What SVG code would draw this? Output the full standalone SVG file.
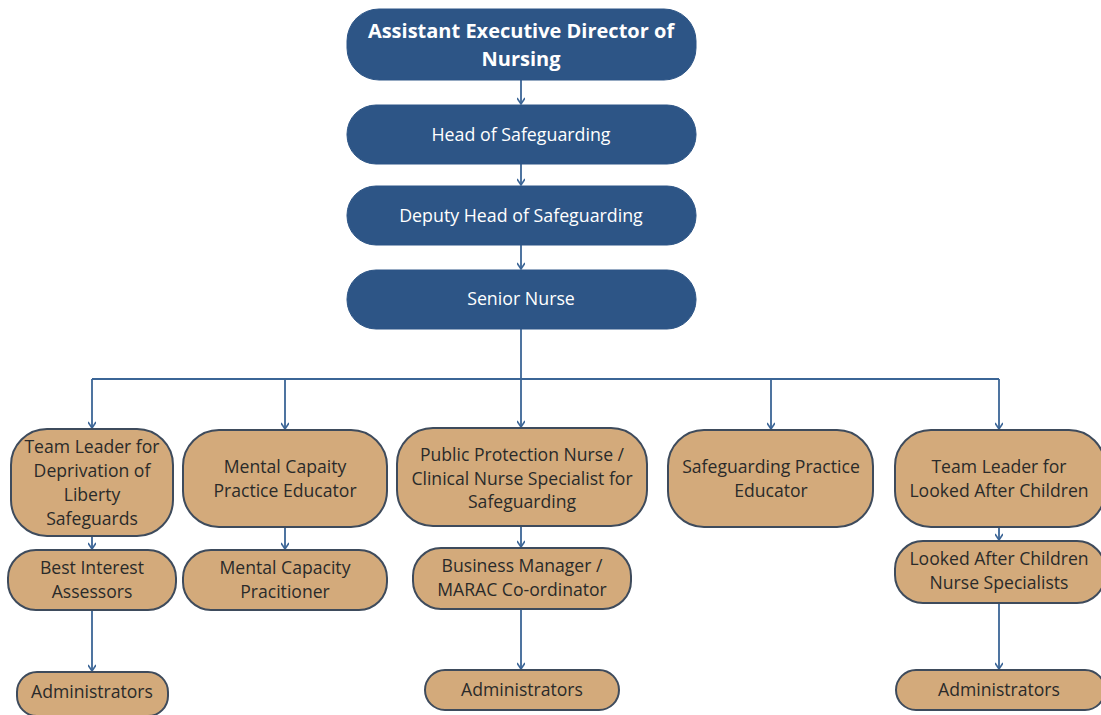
<svg xmlns="http://www.w3.org/2000/svg" width="1101" height="715" viewBox="0 0 1101 715">
<defs>
<marker id="ah" markerWidth="8" markerHeight="8" refX="7" refY="4" orient="auto" markerUnits="userSpaceOnUse" viewBox="0 0 8 8">
<path d="M1,0 L7,4 L1,8" fill="none" stroke="#3b6596" stroke-width="1.6"/>
</marker>
<style>
.b{fill:#2d5586;stroke:#2d5586;}
.o{fill:#d3aa7b;stroke:#3e4b5c;stroke-width:2;}
.tw{fill:#ffffff;font-family:"Open Sans","Noto Sans",sans-serif;font-size:17.8px;text-anchor:middle;}
.tt{fill:#ffffff;font-family:"Open Sans","Noto Sans",sans-serif;font-size:20px;font-weight:bold;text-anchor:middle;}
.td{fill:#2a2a2a;font-family:"Open Sans","Noto Sans",sans-serif;font-size:17.6px;text-anchor:middle;}
.c{fill:none;stroke:#3b6596;stroke-width:1.8;}
</style>
</defs>
<rect width="1101" height="715" fill="#ffffff"/>
<g id="connectors">
<path class="c" d="M521,80 V104" marker-end="url(#ah)"/>
<path class="c" d="M521,164 V185" marker-end="url(#ah)"/>
<path class="c" d="M521,245 V269" marker-end="url(#ah)"/>
<path class="c" d="M521,329 V379"/>
<path class="c" d="M92,379 H999"/>
<path class="c" d="M92,379 V428" marker-end="url(#ah)"/>
<path class="c" d="M285,379 V429" marker-end="url(#ah)"/>
<path class="c" d="M521,379 V427" marker-end="url(#ah)"/>
<path class="c" d="M771,379 V429" marker-end="url(#ah)"/>
<path class="c" d="M999,379 V429" marker-end="url(#ah)"/>
<path class="c" d="M92,536 V549" marker-end="url(#ah)"/>
<path class="c" d="M285,527 V549" marker-end="url(#ah)"/>
<path class="c" d="M521,526 V547" marker-end="url(#ah)"/>
<path class="c" d="M999,527 V540" marker-end="url(#ah)"/>
<path class="c" d="M92,610 V671" marker-end="url(#ah)"/>
<path class="c" d="M521,609 V669" marker-end="url(#ah)"/>
<path class="c" d="M999,603 V669" marker-end="url(#ah)"/>
</g>
<g id="n-aedn">
<rect class="b" x="347" y="9" width="349" height="71" rx="32"/>
<text class="tt" x="521" y="38">Assistant Executive Director of</text>
<text class="tt" x="521" y="66">Nursing</text>
</g>
<g id="n-head">
<rect class="b" x="347" y="105" width="349" height="59" rx="29"/>
<text class="tw" x="521" y="141">Head of Safeguarding</text>
</g>
<g id="n-deputy">
<rect class="b" x="347" y="186" width="349" height="59" rx="29"/>
<text class="tw" x="521" y="222">Deputy Head of Safeguarding</text>
</g>
<g id="n-senior">
<rect class="b" x="347" y="270" width="349" height="59" rx="29"/>
<text class="tw" x="521" y="305">Senior Nurse</text>
</g>
<g id="n-dols">
<rect class="o" x="11" y="429" width="162" height="107" rx="36"/>
<text class="td" x="92" y="453">Team Leader for</text>
<text class="td" x="92" y="477">Deprivation of</text>
<text class="td" x="92" y="501">Liberty</text>
<text class="td" x="92" y="525">Safeguards</text>
</g>
<g id="n-mcpe">
<rect class="o" x="183" y="430" width="204" height="97" rx="36"/>
<text class="td" x="285" y="473">Mental Capaity</text>
<text class="td" x="285" y="497">Practice Educator</text>
</g>
<g id="n-ppn">
<rect class="o" x="397" y="428" width="250" height="98" rx="36"/>
<text class="td" x="522" y="461">Public Protection Nurse /</text>
<text class="td" x="522" y="485">Clinical Nurse Specialist for</text>
<text class="td" x="522" y="508">Safeguarding</text>
</g>
<g id="n-spe">
<rect class="o" x="668" y="430" width="205" height="97" rx="36"/>
<text class="td" x="771" y="473">Safeguarding Practice</text>
<text class="td" x="771" y="497">Educator</text>
</g>
<g id="n-lac">
<rect class="o" x="895" y="430" width="210" height="97" rx="36"/>
<text class="td" x="999" y="473">Team Leader for</text>
<text class="td" x="999" y="497">Looked After Children</text>
</g>
<g id="n-bia">
<rect class="o" x="8" y="550" width="168" height="60" rx="28"/>
<text class="td" x="92" y="574">Best Interest</text>
<text class="td" x="92" y="598">Assessors</text>
</g>
<g id="n-mcp">
<rect class="o" x="183" y="550" width="204" height="60" rx="28"/>
<text class="td" x="285" y="574">Mental Capacity</text>
<text class="td" x="285" y="598">Pracitioner</text>
</g>
<g id="n-bm">
<rect class="o" x="413" y="548" width="218" height="61" rx="28"/>
<text class="td" x="522" y="572">Business Manager /</text>
<text class="td" x="522" y="596">MARAC Co-ordinator</text>
</g>
<g id="n-lacns">
<rect class="o" x="895" y="541" width="210" height="62" rx="28"/>
<text class="td" x="999" y="565">Looked After Children</text>
<text class="td" x="999" y="589">Nurse Specialists</text>
</g>
<g id="n-admin1">
<rect class="o" x="17" y="672" width="151" height="44" rx="20"/>
<text class="td" x="92" y="698">Administrators</text>
</g>
<g id="n-admin2">
<rect class="o" x="425" y="670" width="194" height="40" rx="20"/>
<text class="td" x="522" y="696">Administrators</text>
</g>
<g id="n-admin3">
<rect class="o" x="896" y="670" width="209" height="40" rx="20"/>
<text class="td" x="999" y="696">Administrators</text>
</g>
</svg>
